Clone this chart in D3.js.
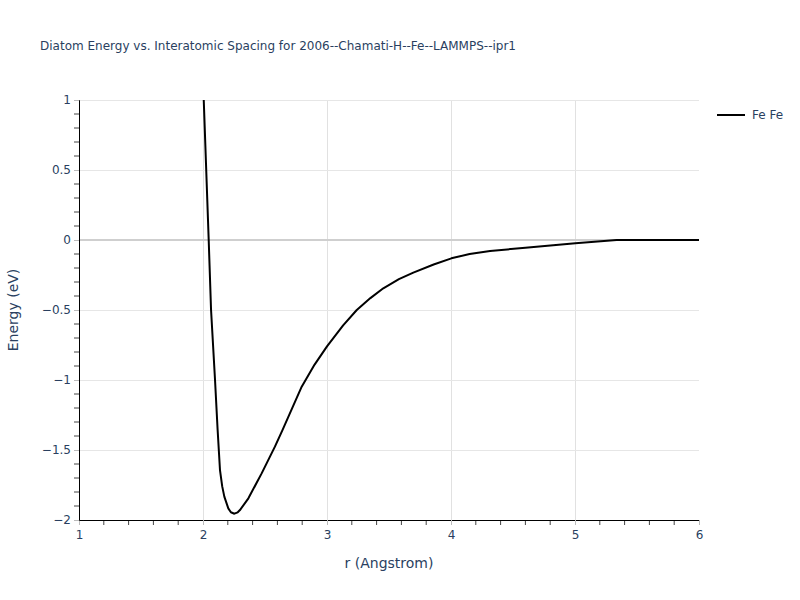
<!DOCTYPE html>
<html><head><meta charset="utf-8">
<script src="https://cdn.jsdelivr.net/npm/d3@7"></script>
<style>body{margin:0;background:#fff}svg{display:block}</style>
</head><body>
<svg id="c" width="800" height="600"></svg>
<script>
const titleText = "Diatom Energy vs. Interatomic Spacing for 2006--Chamati-H--Fe--LAMMPS--ipr1";
const seriesName = "Fe Fe";
const rValues = [2.00, 2.046, 2.065, 2.097, 2.118, 2.137, 2.155, 2.172, 2.204, 2.225, 2.253, 2.28, 2.298, 2.366, 2.473, 2.58, 2.64, 2.796, 2.9, 3.0, 3.13, 3.24, 3.35, 3.454, 3.58, 3.696, 3.86, 4.003, 4.15, 4.315, 4.6, 5.003, 5.336, 6.0];
const energyValues = [1.15, 0, -0.5, -1.0, -1.357, -1.643, -1.76, -1.833, -1.917, -1.945, -1.955, -1.945, -1.929, -1.845, -1.667, -1.476, -1.36, -1.048, -0.89, -0.76, -0.61, -0.5, -0.415, -0.345, -0.28, -0.233, -0.175, -0.131, -0.10, -0.079, -0.055, -0.024, 0, 0];
const xTicks = [1, 2, 3, 4, 5, 6];
const yTicks = [1, 0.5, 0, -0.5, -1, -1.5, -2];

const font = "'DejaVu Sans', Verdana, sans-serif";
const svg = d3.select("#c");
const L = 79, R = 699, T = 100, B = 520;
const x = d3.scaleLinear().domain([1, 6]).range([L, R]);
const y = d3.scaleLinear().domain([-2, 1]).range([B, T]);
const fmt = v => (v < 0 ? "\u2212" + Math.abs(v) : String(v));

// grid
svg.append("g").selectAll("line").data(xTicks.filter(v => v > 1 && v < 6)).join("line")
  .attr("x1", d => x(d)).attr("x2", d => x(d)).attr("y1", T).attr("y2", B)
  .attr("stroke", "#e1e1e1").attr("stroke-width", 1).attr("shape-rendering", "crispEdges");
svg.append("g").selectAll("line").data(yTicks.filter(v => v !== 0 && v > -2)).join("line")
  .attr("x1", L).attr("x2", R).attr("y1", d => y(d)).attr("y2", d => y(d))
  .attr("stroke", "#e6e6e6").attr("stroke-width", 1).attr("shape-rendering", "crispEdges");
svg.append("line").attr("x1", L).attr("x2", R).attr("y1", y(0)).attr("y2", y(0))
  .attr("stroke", "#cfcfcf").attr("stroke-width", 2);

// curve
svg.append("clipPath").attr("id", "clip").append("rect")
  .attr("x", L).attr("y", T).attr("width", R - L).attr("height", B - T);
const pts = rValues.map((r, i) => [r, energyValues[i]]);
svg.append("path").datum(pts)
  .attr("clip-path", "url(#clip)")
  .attr("d", d3.line().x(d => x(d[0])).y(d => y(d[1])))
  .attr("fill", "none").attr("stroke", "#000").attr("stroke-width", 2).attr("stroke-linejoin", "round");

// minor ticks
const xMinor = d3.range(1.2, 6, 0.2).filter(v => Math.abs(v - Math.round(v)) > 1e-6);
svg.append("g").selectAll("line").data(xMinor).join("line")
  .attr("x1", d => x(d)).attr("x2", d => x(d)).attr("y1", B).attr("y2", B + 5)
  .attr("stroke", "#444").attr("stroke-width", 1);
const yMinor = d3.range(-19, 10).map(v => v / 10).filter(v => Math.abs(v * 2 - Math.round(v * 2)) > 1e-6);
svg.append("g").selectAll("line").data(yMinor).join("line")
  .attr("x1", L - 5).attr("x2", L).attr("y1", d => y(d)).attr("y2", d => y(d))
  .attr("stroke", "#444").attr("stroke-width", 1);

// axes
const xAxis = d3.axisBottom(x).tickValues(xTicks).tickSize(5).tickPadding(5).tickFormat(fmt);
const gx = svg.append("g").attr("transform", `translate(0,${B})`).call(xAxis);
const yAxis = d3.axisLeft(y).tickValues(yTicks).tickSize(5).tickPadding(3).tickFormat(fmt);
const gy = svg.append("g").attr("transform", `translate(${L},0)`).call(yAxis);
[gx, gy].forEach(g => {
  g.select(".domain").attr("stroke", "#000").attr("stroke-width", 1);
  g.selectAll(".tick line").attr("stroke", "#bbb");
  g.selectAll(".tick text").attr("fill", "#2a3f5f").style("font-family", font).style("font-size", "12px");
});

// titles
svg.append("text").attr("x", 40).attr("y", 50).text(titleText)
  .attr("fill", "#2a3f5f").style("font-family", font).style("font-size", "12px");
svg.append("text").attr("x", (L + R) / 2).attr("y", 568).attr("text-anchor", "middle").text("r (Angstrom)")
  .attr("fill", "#2a3f5f").style("font-family", font).style("font-size", "14px");
svg.append("text").attr("transform", `translate(18,${(T + B) / 2}) rotate(-90)`).attr("text-anchor", "middle")
  .text("Energy (eV)").attr("fill", "#2a3f5f").style("font-family", font).style("font-size", "14px");

// legend
svg.append("line").attr("x1", 717).attr("x2", 745).attr("y1", 115).attr("y2", 115)
  .attr("stroke", "#000").attr("stroke-width", 2);
svg.append("text").attr("x", 752).attr("y", 119).text(seriesName)
  .attr("fill", "#2a3f5f").style("font-family", font).style("font-size", "12px");
</script>
</body></html>
